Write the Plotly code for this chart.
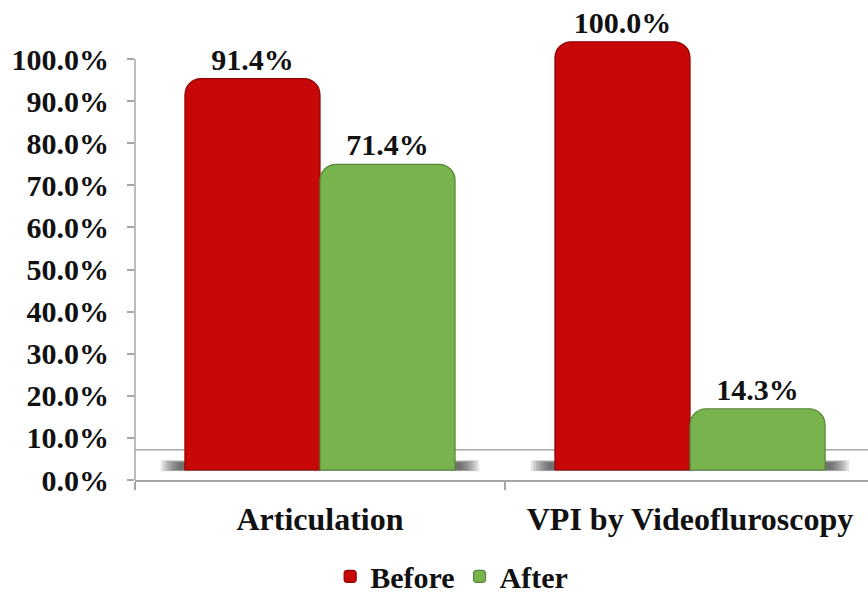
import plotly.graph_objects as go

# Chart data
categories = ["Articulation", "VPI by Videofluroscopy"]
before_pct = [91.4, 100.0]
after_pct = [71.4, 14.3]
y_tick_values = [0, 10, 20, 30, 40, 50, 60, 70, 80, 90, 100]
y_tick_labels = ["0.0%", "10.0%", "20.0%", "30.0%", "40.0%", "50.0%",
                 "60.0%", "70.0%", "80.0%", "90.0%", "100.0%"]

FONT = "Liberation Serif"
RED = "#C80808"
RED_EDGE = "#8E0000"
GREEN = "#78B34E"
GREEN_EDGE = "#55873A"
AXIS_GREY = "#A6A6A6"

fig = go.Figure()

fig.add_trace(go.Bar(
    name="<b>Before</b>", x=categories, y=before_pct, yaxis="y2",
    marker=dict(color=RED, line=dict(color=RED_EDGE, width=1.2), cornerradius=16),
    texttemplate="<b>%{y:.1f}%</b>", textposition="outside", cliponaxis=False,
    textfont=dict(family=FONT, size=30, color="#111111"),
))
fig.add_trace(go.Bar(
    name="<b>After</b>", x=categories, y=after_pct, yaxis="y2",
    marker=dict(color=GREEN, line=dict(color=GREEN_EDGE, width=1.2), cornerradius=16),
    texttemplate="<b>%{y:.1f}%</b>", textposition="outside", cliponaxis=False,
    textfont=dict(family=FONT, size=30, color="#111111"),
))

shapes = []
# vertical value axis line (0% to 100%)
shapes.append(dict(type="line", xref="paper", yref="y", x0=0, x1=0, y0=0, y1=100,
                   line=dict(color=AXIS_GREY, width=1.5), layer="above"))
# back edge of the floor
shapes.append(dict(type="line", xref="paper", yref="y", x0=0, x1=1, y0=7.2, y1=7.2,
                   line=dict(color=AXIS_GREY, width=1.5), layer="below"))
# soft shadows under each bar pair
for i in range(len(categories)):
    for k in range(8):
        half = 0.43 - k * 0.007
        shapes.append(dict(type="rect", xref="x", yref="y2",
                           x0=i - half, x1=i + half, y0=-0.3 + k * 0.05, y1=2.3 - k * 0.08,
                           fillcolor="#303030", opacity=0.13, line=dict(width=0),
                           layer="below"))

fig.update_layout(
    width=868, height=593,
    margin=dict(l=135, r=0, t=17, b=113, autoexpand=False),
    paper_bgcolor="white", plot_bgcolor="white",
    font=dict(family=FONT, size=30, color="#111111"),
    barmode="group", bargap=0.27, bargroupgap=0,
    showlegend=True,
    legend=dict(orientation="h", x=0.432, xanchor="center",
                yref="container", y=0.028, yanchor="middle",
                font=dict(family=FONT, size=30, color="#111111"),
                traceorder="normal"),
    xaxis=dict(range=[-0.5, 1.481], showline=True, linecolor=AXIS_GREY, linewidth=1.5,
               ticks="outside", tickson="boundaries", ticklen=8, tickcolor=AXIS_GREY,
               tickwidth=1.5, showgrid=False, zeroline=False, ticklabelstandoff=10,
               tickvals=categories, ticktext=["<b>" + c + "</b>" for c in categories],
               tickfont=dict(family=FONT, size=32), automargin=False),
    yaxis=dict(range=[0, 110], tickvals=y_tick_values,
               ticktext=["<b>" + t + "</b>" for t in y_tick_labels],
               showline=False, ticks="outside", ticklen=7, tickcolor=AXIS_GREY,
               tickwidth=1.5, showgrid=False, zeroline=False, ticklabelstandoff=12,
               tickfont=dict(family=FONT, size=30), automargin=False),
    yaxis2=dict(overlaying="y", range=[-2.336, 105.8], visible=False,
                showgrid=False, zeroline=False, automargin=False),
    shapes=shapes,
)

fig.write_html("out.html")
